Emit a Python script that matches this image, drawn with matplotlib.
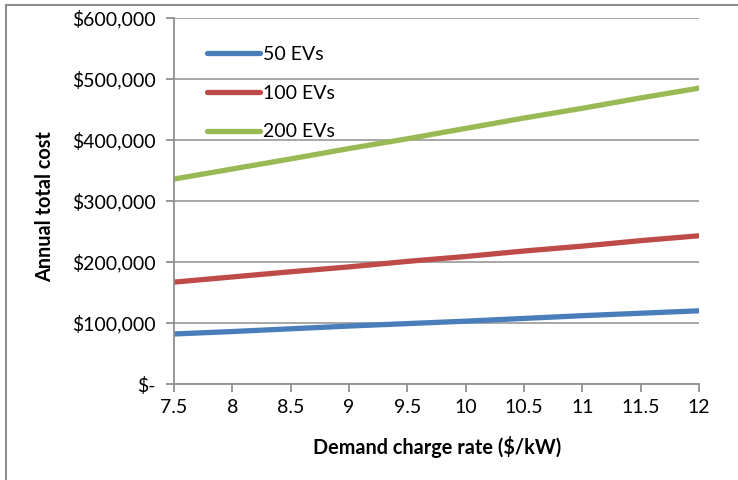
import matplotlib
matplotlib.use("Agg")
import matplotlib.pyplot as plt
from matplotlib.lines import Line2D
from matplotlib.ticker import FuncFormatter

rates = [7.5, 8, 8.5, 9, 9.5, 10, 10.5, 11, 11.5, 12]
ev50 = [82000, 86000, 90500, 95000, 99000, 103000, 107500, 112000, 116000, 120000]
ev100 = [167000, 175500, 184000, 192000, 201000, 209000, 218000, 226000, 235000, 243000]
ev200 = [336000, 352500, 369000, 386000, 402000, 419000, 436000, 452000, 469000, 485000]
series_names = ["50 EVs", "100 EVs", "200 EVs"]
colors = ["#4A7EBB", "#BE4B48", "#98B954"]
xticks = [7.5, 8, 8.5, 9, 9.5, 10, 10.5, 11, 11.5, 12]
xticklabels = ["7.5", "8", "8.5", "9", "9.5", "10", "10.5", "11", "11.5", "12"]
yticks = [0, 100000, 200000, 300000, 400000, 500000, 600000]

plt.rcParams['font.family'] = ['Lato', 'DejaVu Sans']

W, H = 738, 480
fig = plt.figure(figsize=(W / 100, H / 100), dpi=100)
ax = fig.add_axes([174 / W, 1 - 384 / H, (699 - 174) / W, (384 - 18) / H])

for ys, c in zip([ev50, ev100, ev200], colors):
    ax.plot(rates, ys, color=c, lw=3.8, solid_capstyle='round')

ax.set_xlim(7.5, 12)
ax.set_ylim(0, 600000)
ax.set_xticks(xticks)
ax.set_xticklabels(xticklabels)
ax.set_yticks(yticks)
ax.yaxis.set_major_formatter(FuncFormatter(lambda v, p: "$-" if v == 0 else f"${v:,.0f}"))
ax.grid(axis='y', color='#A0A0A0', lw=1.3)
ax.set_axisbelow(True)
for s in ['top', 'right']:
    ax.spines[s].set_visible(False)
for s in ['left', 'bottom']:
    ax.spines[s].set_color('#909090')
    ax.spines[s].set_linewidth(1.3)
ax.tick_params(axis='both', colors='#909090', length=6, width=1.3, labelsize=14, labelcolor='black')
ax.tick_params(axis='y', pad=7)
ax.tick_params(axis='x', pad=5)

fig.text(437 / W, 1 - 447 / H, "Demand charge rate ($/kW)", ha='center', va='center', fontsize=14.3, fontweight='bold')
fig.text(45 / W, 1 - 207 / H, "Annual total cost", ha='center', va='center', rotation=90, fontsize=14.3, fontweight='bold')

handles = [Line2D([0], [0], color=c, lw=3.8, solid_capstyle='round') for c in colors]
leg = ax.legend(handles, series_names, loc='upper left', bbox_to_anchor=(25 / (699 - 174), 1 - 20 / 366),
                frameon=False, fontsize=14, handlelength=2.75, handletextpad=0.15, labelspacing=1.12,
                borderaxespad=0)

# outer frame (top and left edges visible)
fig.add_artist(Line2D([6 / W, 6 / W], [0, 1 - 5 / H], color='#8C8C8C', lw=1.5))
fig.add_artist(Line2D([6 / W, 1], [1 - 5 / H, 1 - 5 / H], color='#8C8C8C', lw=1.5))

fig.savefig("out.png", dpi=100)
